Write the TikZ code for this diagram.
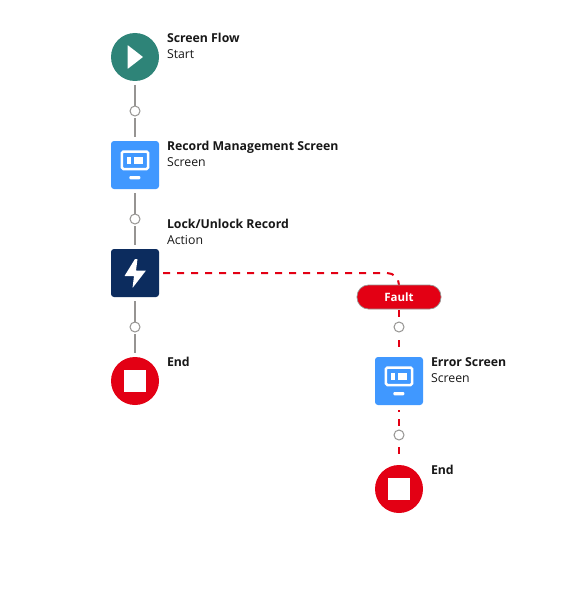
\documentclass[tikz,border=0pt]{standalone}
\usepackage{fontspec}
\setmainfont{Open Sans}
\definecolor{teal1}{HTML}{2E8478}
\definecolor{blue1}{HTML}{4098FF}
\definecolor{navy1}{HTML}{0C2C5E}
\definecolor{red1}{HTML}{E30014}
\definecolor{grey1}{HTML}{969492}
\definecolor{ink}{HTML}{181818}
\tikzset{
  every node/.style={inner sep=0pt,outer sep=0pt},
  startnode/.style={circle,fill=teal1,minimum size=48pt},
  endnode/.style={circle,fill=red1,minimum size=48pt},
  screennode/.style={rounded corners=3pt,fill=blue1,minimum size=48pt},
  actionnode/.style={rounded corners=3pt,fill=navy1,minimum size=48pt},
  dotnode/.style={circle,draw=grey1,line width=1pt,fill=white,minimum size=10pt},
  titlelbl/.style={anchor=north west,text height=9.4pt,font=\fontsize{12.3}{14}\selectfont\bfseries,text=ink},
  sublbl/.style={anchor=north west,text height=9.4pt,font=\fontsize{12.3}{14}\selectfont,text=ink},
  conn/.style={draw=grey1,line width=2pt},
  faultconn/.style={draw=red1,line width=2pt,dash pattern=on 7pt off 7pt},
  faultpill/.style={rounded corners=11.5pt,fill=red1,draw=grey1,line width=.7pt,minimum width=84pt,minimum height=24pt,text=white,font=\fontsize{11.5}{13}\selectfont\bfseries},
}
\newcommand{\screenicon}[1]{%
  \begin{scope}[shift={(#1)}]
    \draw[white,line width=2.5pt,rounded corners=1.5pt] (-13.2,-9.5) rectangle (13.2,8);
    \fill[white] (-8,-4) rectangle (-4,3.3);
    \fill[white] (-1.3,-4) rectangle (7.7,3.3);
    \fill[white,rounded corners=1pt] (-5.7,15) rectangle (5.3,18.3);
  \end{scope}}
\newcommand{\stopicon}[1]{\fill[white] ([shift={(-11,-11)}]#1) rectangle ([shift={(11,11)}]#1);}
\begin{document}
\begin{tikzpicture}[x=1pt,y=-1pt]
\useasboundingbox (0,0) rectangle (579,615);
\fill[white] (0,0) rectangle (579,615);
% connectors' end points and nodes
\node[startnode] (start) at (135,57) {};
\node[dotnode] (d1) at (135,111) {};
\node[screennode] (rec) at (135,165) {};
\node[dotnode] (d2) at (135,219) {};
\node[actionnode] (act) at (135,273) {};
\node[dotnode] (d3) at (135,327) {};
\node[endnode] (end1) at (135,381) {};
\node[dotnode] (d4) at (399,327) {};
\node[screennode] (err) at (399,381) {};
\node[dotnode] (d5) at (399,435) {};
\node[endnode] (end2) at (399,489) {};
\coordinate (bend) at (399,273);
\coordinate (pillin) at (399,292);
% connectors
\draw[conn,shorten <=4pt] (start) -- (d1);
\draw[conn,shorten <=2pt,shorten >=4pt] (d1) -- (rec);
\draw[conn,shorten <=4pt] (rec) -- (d2);
\draw[conn,shorten <=2pt,shorten >=4pt] (d2) -- (act);
\draw[conn,shorten <=4pt] (act) -- (d3);
\draw[conn,shorten <=2pt,shorten >=4pt] (d3) -- (end1);
\draw[faultconn,shorten <=4pt,rounded corners=12pt] (act.east) -- (bend) -- (pillin);
\node[faultpill] (fault) at (399,297) {Fault};
\draw[faultconn,shorten <=1pt] (fault.south) -- (d4);
\draw[faultconn,shorten <=8pt,shorten >=8pt] (d4) -- (err);
\draw[faultconn,dash phase=5pt,shorten <=5pt] (err) -- (d5);
\draw[faultconn,shorten <=7pt,shorten >=4pt] (d5) -- (end2);
% icons
\fill[white,rounded corners=.6pt] (127.5,45) -- (143,57) -- (127.5,69) -- cycle;
\screenicon{135,161}
\screenicon{399,377}
\fill[white,rounded corners=.4pt] (135,259) -- (137.5,259) -- (136,270.5) -- (146,270.5) -- (132.5,288) -- (134,276) -- (124.5,276) -- cycle;
\stopicon{end1}
\stopicon{end2}
% labels
\node[titlelbl] at (167,33) {Screen Flow};
\node[sublbl] at (167,49) {Start};
\node[titlelbl] at (167,141) {Record Management Screen};
\node[sublbl] at (167,157) {Screen};
\node[titlelbl] at (167,219) {Lock/Unlock Record};
\node[sublbl] at (167,235) {Action};
\node[titlelbl] at (167,357) {End};
\node[titlelbl] at (431,357) {Error Screen};
\node[sublbl] at (431,373) {Screen};
\node[titlelbl] at (431,465) {End};
\end{tikzpicture}
\end{document}
